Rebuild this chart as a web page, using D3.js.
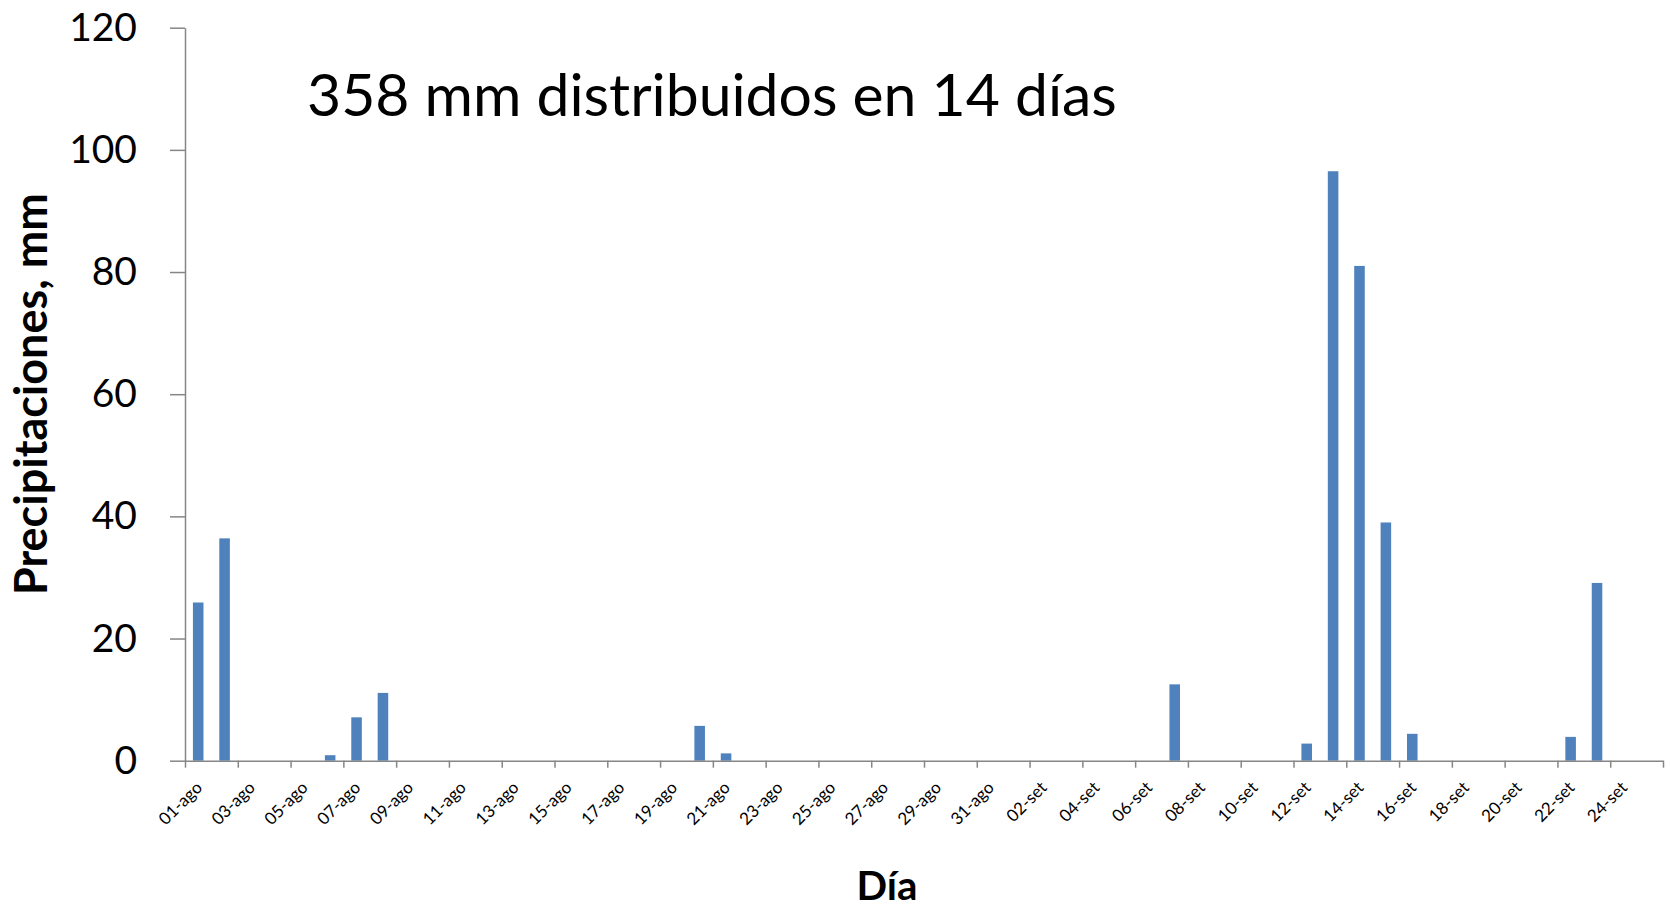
<!DOCTYPE html>
<html><head><meta charset="utf-8">
<script src="https://cdn.jsdelivr.net/npm/d3@7"></script>
<style>body{margin:0;background:#fff}svg text{font-family:Lato,'Open Sans',sans-serif;fill:#000}</style>
</head><body><svg id="c" width="1671" height="909"></svg>
<script>
const categories = ["01-ago","02-ago","03-ago","04-ago","05-ago","06-ago","07-ago","08-ago","09-ago","10-ago",
"11-ago","12-ago","13-ago","14-ago","15-ago","16-ago","17-ago","18-ago","19-ago","20-ago",
"21-ago","22-ago","23-ago","24-ago","25-ago","26-ago","27-ago","28-ago","29-ago","30-ago","31-ago",
"01-set","02-set","03-set","04-set","05-set","06-set","07-set","08-set","09-set","10-set",
"11-set","12-set","13-set","14-set","15-set","16-set","17-set","18-set","19-set","20-set",
"21-set","22-set","23-set","24-set","25-set"];
const precip = [25.9,36.4,0,0,0,0.9,7.1,11.1,
0,0,0,0,0,0,0,0,0,0,0,
5.7,1.2,
0,0,0,0,0,0,0,0,0,0,0,0,0,0,0,0,
12.5,
0,0,0,0,
2.8,96.5,81.0,39.0,4.4,
0,0,0,0,0,
3.9,29.1,0,0];
const labelCats = categories.filter((d,i)=>i%2===0 && i<55);
const yTicks = [0,20,40,60,80,100,120];
const title = "358 mm distribuidos en 14 días";
const yTitle = "Precipitaciones, mm";
const xTitle = "Día";

const svg = d3.select("#c");
const L=185, R=1663, T=27.7, B=760.7;
const x = d3.scaleBand().domain(categories).range([L,R]).paddingInner(0.6).paddingOuter(0.3);
const xb = d3.scaleLinear().domain([0,categories.length]).range([L,R]);
const y = d3.scaleLinear().domain([0,120]).range([B,T]);
const axisColor="#868686";

svg.append("g").selectAll("rect").data(precip).join("rect")
  .attr("x",(d,i)=>x(categories[i])).attr("width",x.bandwidth())
  .attr("y",d=>y(d)).attr("height",d=>y(0)-y(d)).attr("fill","#4F81BD");

const gy = svg.append("g").attr("transform",`translate(${L},0)`)
  .call(d3.axisLeft(y).tickValues(yTicks).tickSize(15).tickSizeOuter(0).tickPadding(33));
gy.selectAll("path,line").attr("stroke",axisColor).attr("stroke-width",1.5);
gy.selectAll("text").attr("font-size",39).attr("font-family","Lato");

const ticks=[]; for(let k=0;k<=categories.length;k+=2) ticks.push(k);
const gx = svg.append("g").attr("transform",`translate(0,${B})`)
  .call(d3.axisBottom(xb).tickValues(ticks).tickSize(7).tickSizeOuter(0).tickFormat(""));
gx.selectAll("path,line").attr("stroke",axisColor).attr("stroke-width",1.5);

svg.append("g").selectAll("text").data(labelCats).join("text")
  .attr("font-size",17).attr("text-anchor","end")
  .attr("transform",d=>`translate(${x(d)+x.bandwidth()/2+5},${B+28}) rotate(-45)`)
  .text(d=>d);

function fit(sel,target){const w=sel.node().getComputedTextLength();const fs=parseFloat(sel.attr("font-size"));sel.attr("font-size",fs*target/w);}

const t = svg.append("text").attr("x",307).attr("y",116).attr("font-size",55).text(title);
fit(t,810);
const yl = svg.append("text").attr("font-size",35).attr("font-weight","bold").attr("text-anchor","middle")
  .attr("transform","translate(47,394) rotate(-90)").text(yTitle);
fit(yl,402);
const xl = svg.append("text").attr("font-size",40).attr("font-weight","bold").attr("text-anchor","middle")
  .attr("x",887).attr("y",900).text(xTitle);
fit(xl,61);
</script></body></html>
